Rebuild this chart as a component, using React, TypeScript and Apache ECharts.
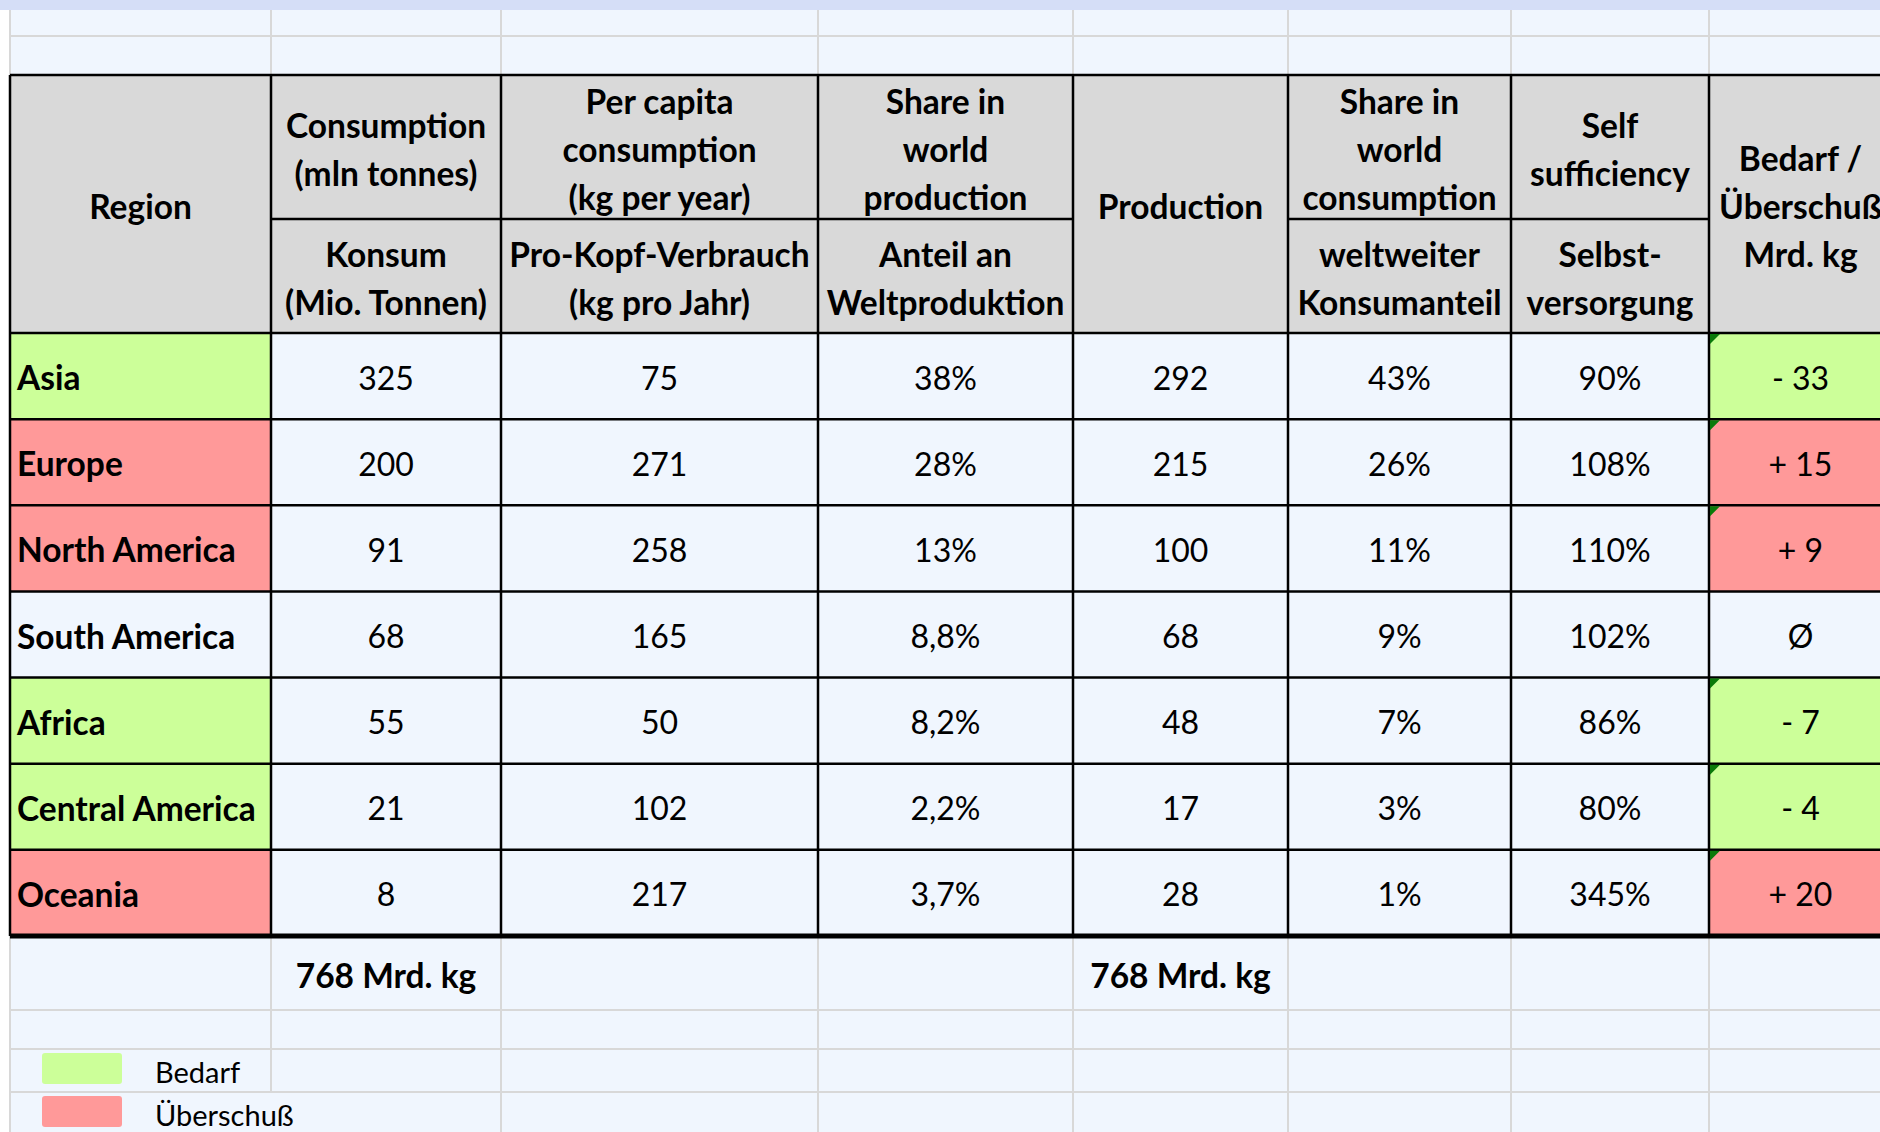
import React, { useEffect, useRef } from "react";
import * as echarts from "echarts";

// ---- data ----
const regions = ["Asia", "Europe", "North America", "South America", "Africa", "Central America", "Oceania"];
const consumption = [325, 200, 91, 68, 55, 21, 8];
const perCapita = [75, 271, 258, 165, 50, 102, 217];
const shareProduction = ["38%", "28%", "13%", "8,8%", "8,2%", "2,2%", "3,7%"];
const production = [292, 215, 100, 68, 48, 17, 28];
const shareConsumption = ["43%", "26%", "11%", "9%", "7%", "3%", "1%"];
const selfSufficiency = ["90%", "108%", "110%", "102%", "86%", "80%", "345%"];
const balance = ["- 33", "+ 15", "+ 9", "Ø", "- 7", "- 4", "+ 20"];
const status = ["need", "surplus", "surplus", "none", "need", "need", "surplus"];
const headerEn = [
  "Region",
  "Consumption\n(mln tonnes)",
  "Per capita\nconsumption\n(kg per year)",
  "Share in\nworld\nproduction",
  "Production",
  "Share in\nworld\nconsumption",
  "Self\nsufficiency",
  "Bedarf /\nÜberschuß\nMrd. kg",
];
const headerDe = [
  "",
  "Konsum\n(Mio. Tonnen)",
  "Pro-Kopf-Verbrauch\n(kg pro Jahr)",
  "Anteil an\nWeltproduktion",
  "",
  "weltweiter\nKonsumanteil",
  "Selbst-\nversorgung",
  "",
];
const totals = ["", "768 Mrd. kg", "", "", "768 Mrd. kg", "", "", ""];
const legendLabels = ["Bedarf", "Überschuß"];

// ---- layout / style ----
const W = 1880;
const H = 1132;
const colEdges = [10, 271, 501, 818, 1073, 1288, 1511, 1709, 1892];
const headTop = 75;
const headMid = 219;
const headBot = 333;
const rowH = (936 - headBot) / 7;
const FONT = "Lato, 'Open Sans', sans-serif";
const FS = 32;
const FS_BOLD = 33.5;
const C_BG = "#F0F6FE";
const C_TOP = "#D5DEF7";
const C_HEAD = "#D9D9D9";
const C_GRID = "#D8D8D8";
const C_GREEN = "#CCFF99";
const C_RED = "#FF9999";
const colorOf = (s: string) => (s === "need" ? C_GREEN : s === "surplus" ? C_RED : C_BG);

function buildGraphics() {
  const g: any[] = [];
  const rect = (x: number, y: number, w: number, h: number, fill: string, extra: any = {}) =>
    g.push({ type: "rect", shape: { x, y, width: w, height: h, ...extra }, style: { fill }, silent: true });
  const line = (x1: number, y1: number, x2: number, y2: number, stroke: string, lw: number) =>
    g.push({ type: "line", shape: { x1, y1, x2, y2 }, style: { stroke, lineWidth: lw }, silent: true });
  const text = (x: number, y: number, t: string, opts: any = {}) =>
    g.push({
      type: "text",
      x,
      y,
      silent: true,
      style: {
        text: t,
        font: `${opts.bold ? "bold " : ""}${opts.size || (opts.bold ? FS_BOLD : FS)}px ${FONT}`,
        fill: "#000",
        textAlign: opts.align || "center",
        textVerticalAlign: "middle",
        lineHeight: 48,
      },
    });

  // backgrounds
  rect(0, 0, W, H, "#FFFFFF");
  rect(9, 10, W - 9, H - 10, C_BG);
  rect(0, 0, W, 10, C_TOP);

  // light grid outside the table
  const ncol = colEdges.length;
  const rowY = (i: number) => headBot + rowH * i;
  const tableBottom = rowY(7);
  const lowerRows = [tableBottom, 1010, 1049, 1092, H];
  [36].forEach((y) => line(9, y, W, y, C_GRID, 2));
  lowerRows.slice(1, 4).forEach((y) => line(9, y, W, y, C_GRID, 2));
  colEdges.forEach((x, i) => {
    line(x, 10, x, headTop, C_GRID, 2);
    const bottom = i === 1 ? 1092 : H;
    line(x, tableBottom, x, bottom, C_GRID, 2);
  });

  // header
  rect(colEdges[0], headTop, colEdges[ncol - 1] - colEdges[0], headBot - headTop, C_HEAD);

  // region + balance cell fills
  regions.forEach((_, i) => {
    const c = colorOf(status[i]);
    rect(colEdges[0], rowY(i), colEdges[1] - colEdges[0], rowH, c);
    rect(colEdges[7], rowY(i), colEdges[8] - colEdges[7], rowH, c);
  });

  // black borders
  line(colEdges[0], headTop, W, headTop, "#000", 2.5);
  headerDe.forEach((d, c) => {
    if (d) line(colEdges[c], headMid, colEdges[c + 1], headMid, "#000", 2.5);
  });
  for (let i = 0; i < 7; i++) line(colEdges[0], rowY(i), W, rowY(i), "#000", 2.5);
  colEdges.forEach((x) => line(x, headTop, x, tableBottom, "#000", 2.5));
  line(colEdges[0], tableBottom, W, tableBottom, "#000", 5);

  // error-indicator triangles
  regions.forEach((_, i) => {
    if (status[i] === "none") return;
    const x = colEdges[7] + 1;
    const y = rowY(i) + 1;
    g.push({
      type: "polygon",
      shape: { points: [[x, y], [x + 10, y], [x, y + 10]] },
      style: { fill: "#0A7A0A" },
      silent: true,
    });
  });

  // header texts
  headerEn.forEach((t, c) => {
    const cx = (colEdges[c] + colEdges[c + 1]) / 2;
    if (headerDe[c]) {
      text(cx, (headTop + headMid) / 2 + 2, t, { bold: true });
      text(cx, (headMid + headBot) / 2 + 2, headerDe[c], { bold: true });
    } else {
      text(cx, (headTop + headBot) / 2 + 2, t, { bold: true });
    }
  });

  // body texts
  const cols: any[][] = [consumption, perCapita, shareProduction, production, shareConsumption, selfSufficiency, balance];
  regions.forEach((r, i) => {
    const cy = rowY(i) + rowH / 2 + 1;
    text(colEdges[0] + 7, cy, r, { bold: true, align: "left" });
    cols.forEach((arr, k) => {
      const c = k + 1;
      text((colEdges[c] + colEdges[c + 1]) / 2, cy, String(arr[i]));
    });
  });

  // totals
  totals.forEach((t, c) => {
    if (t) text((colEdges[c] + colEdges[c + 1]) / 2, (tableBottom + 1010) / 2 + 2, t, { bold: true });
  });

  // legend
  const legendColors = [C_GREEN, C_RED];
  legendLabels.forEach((l, i) => {
    const y0 = i === 0 ? 1053 : 1096;
    rect(42, y0, 80, 31, legendColors[i], { r: 3 });
    text(155, y0 + 18, l, { align: "left", size: 29 });
  });

  return g;
}

export default function App() {
  const ref = useRef<HTMLDivElement>(null);
  useEffect(() => {
    if (!ref.current) return;
    const chart = echarts.init(ref.current, undefined, { renderer: "svg" });
    chart.setOption({
      animation: false,
      backgroundColor: "#FFFFFF",
      graphic: { elements: buildGraphics() },
    });
    return () => chart.dispose();
  }, []);
  return <div ref={ref} style={{ width: W, height: H, position: "absolute", left: 0, top: 0 }} />;
}
